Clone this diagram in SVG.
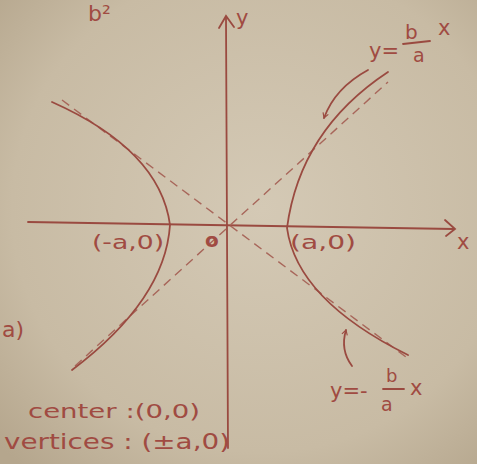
<svg xmlns="http://www.w3.org/2000/svg" width="477" height="464" viewBox="0 0 477 464">
<defs>
<radialGradient id="bg" cx="0.55" cy="0.45" r="0.75">
<stop offset="0" stop-color="#d4c9b5"/>
<stop offset="0.7" stop-color="#c8bba4"/>
<stop offset="1" stop-color="#b5a68d"/>
</radialGradient>
<marker id="ah" viewBox="0 0 10 10" refX="8" refY="5" markerWidth="7" markerHeight="7" orient="auto" markerUnits="userSpaceOnUse">
<path d="M1,1 L8,5 L1,9" fill="none" stroke="#9a4a40" stroke-width="1.6"/>
</marker>
</defs>
<style>
.ink{fill:none;stroke:#9a4a40;stroke-width:1.8;stroke-linecap:round}
.dash{fill:none;stroke:#a8665a;stroke-width:1.4;stroke-dasharray:9 6}
.t{fill:#a04b42;font-family:"DejaVu Sans",sans-serif}
</style>
<rect width="477" height="464" fill="url(#bg)"/>
<g id="axes">
<path class="ink" d="M228,448 L226,18"/>
<path class="ink" d="M219,28 L226,16 L234,27"/>
<path class="ink" d="M28,222 L454,229"/>
<path class="ink" d="M445,220 L455,229 L446,236"/>
</g>
<g id="asymptotes">
<path class="dash" d="M62,100 L410,360"/>
<path class="dash" d="M75,366 L388,82"/>
</g>
<g id="hyperbola">
<path class="ink" d="M388,72 Q300,130 287,228 Q297,300 408,355"/>
<path class="ink" d="M52,102 Q160,150 170,225 Q165,300 72,370"/>
</g>
<g id="pointers">
<path class="ink" d="M368,70 Q335,88 324,118" marker-end="url(#ah)"/>
<path class="ink" d="M352,366 Q340,350 346,330" marker-end="url(#ah)"/>
</g>
<g id="labels">
<text class="t" x="236" y="25" font-size="21">y</text>
<text class="t" x="457" y="249" font-size="21">x</text>
<text class="t" x="205" y="247" font-size="20" font-weight="bold">o</text>
<text class="t" x="92" y="249" font-size="19" textLength="72" lengthAdjust="spacingAndGlyphs">(-a,0)</text>
<text class="t" x="290" y="249" font-size="19" textLength="66" lengthAdjust="spacingAndGlyphs">(a,0)</text>
<text class="t" x="369" y="58" font-size="21">y=</text>
<text class="t" x="405" y="39" font-size="20">b</text>
<path class="ink" d="M403,44 L430,41" stroke-width="1.4"/>
<text class="t" x="413" y="62" font-size="19">a</text>
<text class="t" x="438" y="35" font-size="21">x</text>
<text class="t" x="330" y="398" font-size="21">y=-</text>
<text class="t" x="386" y="382" font-size="18">b</text>
<path class="ink" d="M383,389 L404,389" stroke-width="1.4"/>
<text class="t" x="381" y="411" font-size="19">a</text>
<text class="t" x="410" y="395" font-size="21">x</text>
<text class="t" x="28" y="418" font-size="20" textLength="172" lengthAdjust="spacingAndGlyphs">center :(0,0)</text>
<text class="t" x="4" y="449" font-size="22" textLength="226" lengthAdjust="spacingAndGlyphs">vertices : (±a,0)</text>
<text class="t" x="2" y="337" font-size="22">a)</text>
<text class="t" x="88" y="21" font-size="22">b²</text>
</g>
</svg>
